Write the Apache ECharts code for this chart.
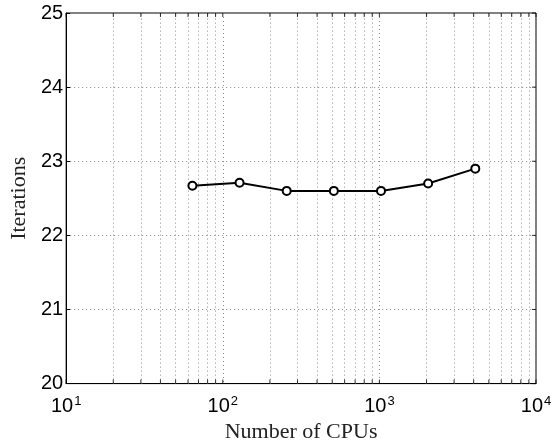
<!DOCTYPE html>
<html><head><meta charset="utf-8">
<script src="https://cdn.jsdelivr.net/npm/echarts@6/dist/echarts.min.js"></script>
<style>html,body{margin:0;padding:0;background:#fff}#c{width:560px;height:448px}</style>
</head><body><div id="c"></div>
<script>
const cpus = [64, 128, 256, 512, 1024, 2048, 4096];
const iterations = [22.67, 22.71, 22.6, 22.6, 22.6, 22.7, 22.9];
const xMajor = [10, 100, 1000, 10000];
const minorGrid = [20,30,40,50,60,70,80,90,200,300,400,500,600,700,800,900,2000,3000,4000,5000,6000,7000,8000,9000];
const yTicks = [20, 21, 22, 23, 24, 25];

const chart = echarts.init(document.getElementById('c'));
const gridDot = {color: '#8a8a8a', type: [1, 3], width: 1};
const yMin = yTicks[0], yMax = yTicks[yTicks.length - 1];
const xTickAll = xMajor.concat(minorGrid);
const tickStyle = {color: '#000'};
chart.setOption({
  animation: false,
  backgroundColor: '#fff',
  grid: {left: 60, right: 24, top: 13, bottom: 60, show: true, borderColor: '#000', borderWidth: 1, backgroundColor: 'transparent'},
  xAxis: {
    type: 'log', logBase: 10, min: xMajor[0], max: xMajor[xMajor.length - 1],
    name: 'Number of CPUs', nameLocation: 'middle', nameGap: 31,
    nameTextStyle: {fontFamily: 'Liberation Serif', fontSize: 22, color: '#222'},
    axisLine: {lineStyle: {color: '#000', width: 1}},
    axisTick: {show: false},
    axisLabel: {
      margin: 11,
      formatter: v => '{b|10}{s|' + Math.round(Math.log10(v)) + '}',
      rich: {
        b: {fontFamily: 'Liberation Sans', fontSize: 20, color: '#000'},
        s: {fontFamily: 'Liberation Sans', fontSize: 13, color: '#000', verticalAlign: 'top', padding: [0,0,10,1]}
      }
    },
    splitLine: {show: true, lineStyle: gridDot}
  },
  yAxis: {
    type: 'value', min: yMin, max: yMax, interval: 1,
    name: 'Iterations', nameLocation: 'middle', nameGap: 29,
    nameTextStyle: {fontFamily: 'Liberation Serif', fontSize: 22, color: '#222'},
    axisLine: {show: true, lineStyle: {color: '#000', width: 1}},
    axisTick: {inside: true, length: 4, lineStyle: {color: '#000'}},
    axisLabel: {fontFamily: 'Liberation Sans', fontSize: 20, color: '#000', margin: 3},
    splitLine: {show: true, lineStyle: gridDot}
  },
  series: [{
    type: 'line',
    data: cpus.map((c, i) => [c, iterations[i]]),
    symbol: 'emptyCircle', symbolSize: 8,
    lineStyle: {color: '#000', width: 2},
    itemStyle: {color: '#000', borderColor: '#000', borderWidth: 2},
    markLine: {
      silent: true, symbol: 'none', label: {show: false},
      lineStyle: gridDot,
      data: minorGrid.map(v => ({xAxis: v}))
    },
    z: 5
  }, {
    type: 'scatter', silent: true, clip: false,
    data: xTickAll.map(v => [v, yMin]),
    symbol: 'rect', symbolSize: [1, 4], symbolOffset: [0, -2],
    itemStyle: tickStyle, z: 6
  }, {
    type: 'scatter', silent: true, clip: false,
    data: xTickAll.map(v => [v, yMax]),
    symbol: 'rect', symbolSize: [1, 4], symbolOffset: [0, 2],
    itemStyle: tickStyle, z: 6
  }, {
    type: 'scatter', silent: true, clip: false,
    data: yTicks.map(v => [xMajor[xMajor.length - 1], v]),
    symbol: 'rect', symbolSize: [4, 1], symbolOffset: [-2, 0],
    itemStyle: tickStyle, z: 6
  }]
});
</script></body></html>
